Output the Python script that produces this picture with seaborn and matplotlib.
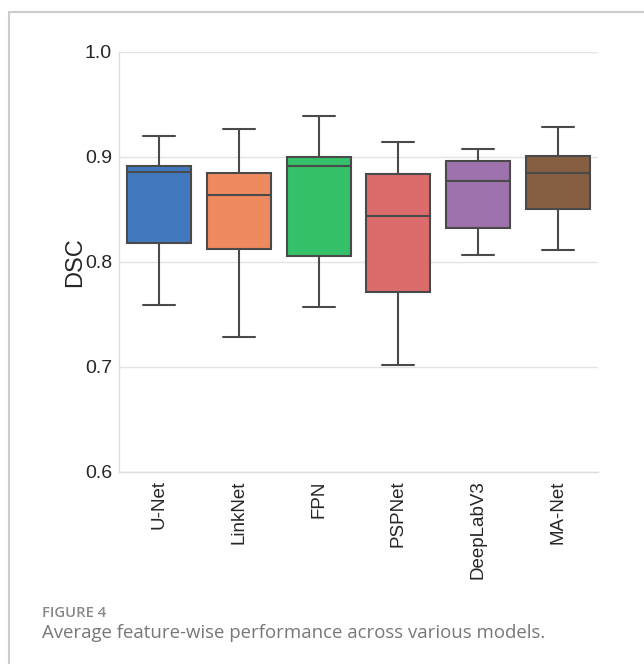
import pandas as pd
import matplotlib.pyplot as plt
import seaborn as sns
from matplotlib.lines import Line2D

sns.set_theme(style="whitegrid")
plt.rcParams["font.family"] = ["Liberation Sans", "DejaVu Sans"]

models = ["U-Net", "LinkNet", "FPN", "PSPNet", "DeepLabV3", "MA-Net"]
# five-number summaries
low = [0.759, 0.729, 0.757, 0.702, 0.807, 0.811]
q1 = [0.818, 0.812, 0.806, 0.771, 0.832, 0.850]
med = [0.886, 0.864, 0.891, 0.844, 0.877, 0.885]
q3 = [0.891, 0.885, 0.900, 0.884, 0.896, 0.901]
high = [0.920, 0.927, 0.939, 0.914, 0.908, 0.929]
colors = ["#4178BE", "#EF8A5E", "#35C06A", "#DC6B6B", "#9E72AC", "#865E42"]

rows = []
for i, m in enumerate(models):
    for v in (low[i], q1[i], med[i], q3[i], high[i]):
        rows.append({"Model": m, "DSC": v})
df = pd.DataFrame(rows)

fig = plt.figure(figsize=(6.44, 6.64), dpi=100)
ax = fig.add_axes([0.1848, 0.2892, 0.7438, 0.6325])
sns.boxplot(data=df, x="Model", y="DSC", hue="Model", palette=colors,
            saturation=1, whis=(0, 100), width=0.8, linewidth=1.5,
            linecolor="#4a4a4a", legend=False, ax=ax)

ax.set_ylim(0.6, 1.0)
ax.set_yticks([0.6, 0.7, 0.8, 0.9, 1.0])
ax.set_xlabel("")
ax.set_ylabel("DSC", fontsize=17, labelpad=-1)
ax.tick_params(axis="y", labelsize=14, length=0, pad=5)
ax.tick_params(axis="x", labelsize=13.5, length=0, pad=6, labelrotation=90)
ax.grid(axis="x", visible=False)
ax.grid(axis="y", color="#e3e3e3", linewidth=1)
for s in ["top", "right"]:
    ax.spines[s].set_visible(False)
for s in ["left", "bottom"]:
    ax.spines[s].set_color("#dddddd")
    ax.spines[s].set_linewidth(1)

# page frame lines
fig.add_artist(Line2D([9 / 644, 1], [1 - 12 / 664, 1 - 12 / 664], color="#cccccc", lw=1.5))
fig.add_artist(Line2D([9 / 644, 9 / 644], [0, 1 - 12 / 664], color="#cccccc", lw=1.5))

fig.text(42 / 644, 1 - 613 / 664, "FIGURE 4", family=["Open Sans", "DejaVu Sans"],
         fontsize=10.7, fontweight="semibold", color="#888888", va="center")
fig.text(42 / 644, 1 - 633 / 664, "Average feature-wise performance across various models.",
         family=["Open Sans", "DejaVu Sans"], fontsize=13.4, color="#777777", va="center")

fig.savefig("out.png", dpi=100)
